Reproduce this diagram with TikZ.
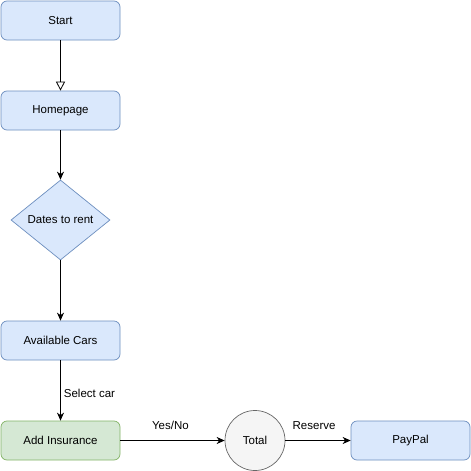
\documentclass[tikz,border=0pt]{standalone}
\usepackage{fontspec}
\setmainfont{Liberation Sans}
\usetikzlibrary{shapes.geometric,arrows.meta}
\definecolor{bluefill}{HTML}{DAE8FC}
\definecolor{blueline}{HTML}{6C8EBF}
\definecolor{greenfill}{HTML}{D5E8D4}
\definecolor{greenline}{HTML}{82B366}
\definecolor{greyfill}{HTML}{F5F5F5}
\definecolor{greyline}{HTML}{666666}
\begin{document}
\begin{tikzpicture}[x=1pt,y=-1pt,
  every node/.style={font=\fontsize{11.5}{13}\selectfont, inner sep=0pt},
  stepbox/.style={draw=blueline, fill=bluefill, rounded corners=6pt, minimum width=119pt, minimum height=39pt, line width=0.7pt},
  greenbox/.style={stepbox, draw=greenline, fill=greenfill},
  choice/.style={diamond, draw=blueline, fill=bluefill, aspect=1.24, minimum width=99pt, minimum height=80pt, line width=0.7pt},
  totalc/.style={circle, draw=greyline, fill=greyfill, minimum size=60pt, line width=0.7pt},
  flow/.style={draw, line width=0.8pt, -{Stealth[length=8pt,width=7pt,inset=2.5pt]}},
  openflow/.style={draw, line width=0.8pt, -{Triangle[open,length=9pt,width=9pt]}},
  lbl/.style={font=\fontsize{11.5}{13}\selectfont}]
\useasboundingbox (0,0) rectangle (471,471);
\fill[white] (0,0) rectangle (471,471);

\node[stepbox] (start) at (60.5,20.5) {Start};
\node[stepbox] (home) at (60.5,110.5) {Homepage};
\node[choice] (dates) at (60.5,220) {Dates to rent};
\node[stepbox] (cars) at (60.5,340.5) {Available Cars};
\node[greenbox] (ins) at (60.5,440.5) {Add Insurance};
\node[totalc] (total) at (255,440.5) {Total};
\node[stepbox] (paypal) at (410.5,440.5) {PayPal};

\draw[openflow] (start) -- (home);
\draw[flow] (home) -- (dates.north);
\draw[flow] (dates.south) -- (cars);
\draw[flow] (cars) -- node[lbl, right=3pt, pos=0.55] {Select car} (ins);
\draw[flow] (ins) -- node[lbl, above=10pt, pos=0.48] {Yes/No} (total);
\draw[flow] (total) -- node[lbl, above=10pt, pos=0.44] {Reserve} (paypal);
\end{tikzpicture}
\end{document}
